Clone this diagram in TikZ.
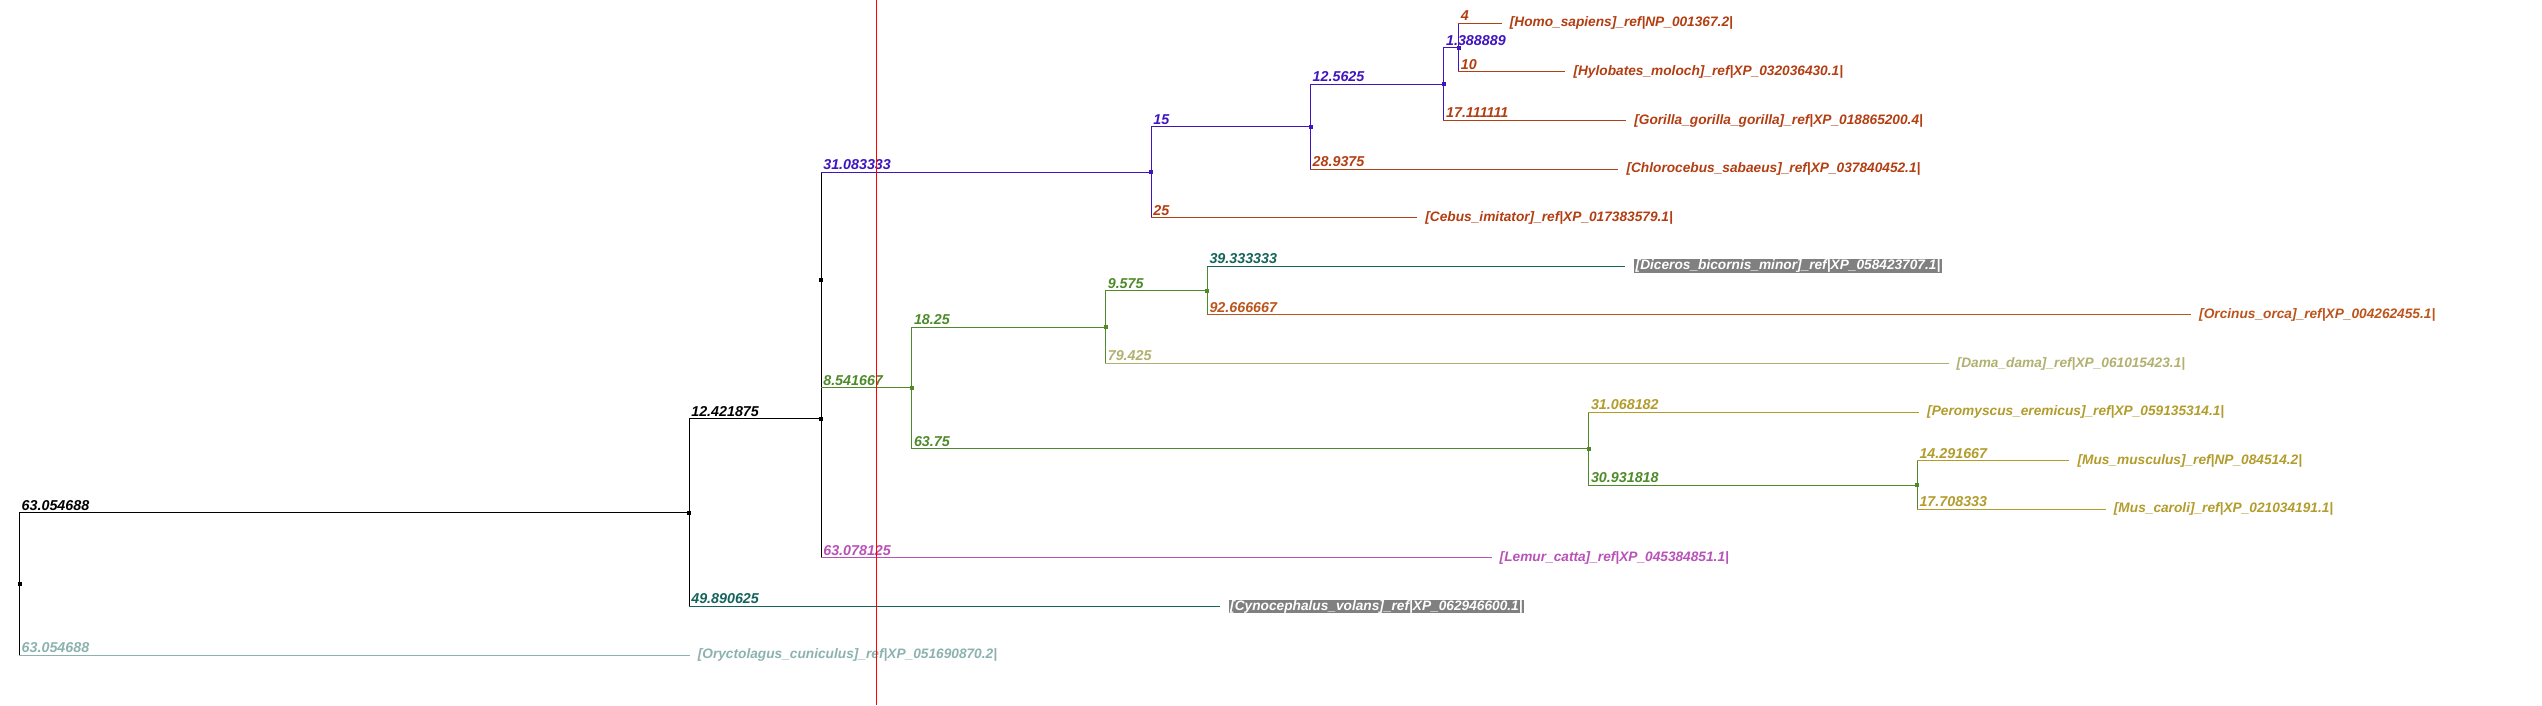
\documentclass[tikz,border=0pt]{standalone}
\usepackage{fontspec}
\setmainfont{Liberation Sans}
\usetikzlibrary{calc}
\definecolor{cblue}{RGB}{64,20,190}
\definecolor{cbrown}{RGB}{178,62,18}
\definecolor{cgreen}{RGB}{78,138,42}
\definecolor{cteal}{RGB}{20,100,92}
\definecolor{corange}{RGB}{188,84,28}
\definecolor{ckhaki}{RGB}{178,176,112}
\definecolor{cgold}{RGB}{178,156,44}
\definecolor{cmag}{RGB}{184,82,184}
\definecolor{clteal}{RGB}{140,178,176}
\definecolor{cbox}{RGB}{128,128,128}
\newcommand{\treeedge}[5]{%
  \draw[branch,#3] (#1) -- (#1 |- #2);
  \draw[branch,#4] (#1 |- #2) -- (#2);
  \node[blen,text=#4] (lab#2) at (#1 |- #2) {#5};
}
\newcommand{\nodedot}[2]{%
  \fill[#2] ($(#1)+(-2pt,-2pt)$) rectangle ++(4pt,4pt);
}
\begin{document}
\begin{tikzpicture}[x=1pt,y=-1pt,
  branch/.style={line width=1.1pt,line cap=rect},
  txt/.style={font=\fontsize{13.7}{16}\selectfont\bfseries\itshape, inner sep=0pt},
  blen/.style={txt, font=\fontsize{14.3}{16}\selectfont\bfseries\itshape, anchor=base west, xshift=2pt, yshift=2.6pt},
  leaf/.style={txt, anchor=west, xshift=8.5pt},
  boxed/.style={txt, anchor=west, xshift=9.5pt, fill=cbox, text=white, inner xsep=1.5pt, inner ysep=0.6pt}]
\useasboundingbox (0,0) rectangle (2542,705);
% internal nodes
\coordinate (R) at (19.5,583.9);
\coordinate (A) at (689.1,512.7);
\coordinate (B) at (821.1,418.9);
\coordinate (C) at (821.1,280.0);
\coordinate (D) at (1151.2,172.2);
\coordinate (E) at (1310.5,126.6);
\coordinate (F) at (1443.9,84.1);
\coordinate (G) at (1458.6,47.6);
\coordinate (H) at (911.8,387.8);
\coordinate (I) at (1105.6,327.1);
\coordinate (J) at (1588.8,448.6);
\coordinate (K) at (1207.3,290.6);
\coordinate (L) at (1917.3,485.3);
% leaf ends
\coordinate (Homo) at (1501.1,23.3);
\coordinate (Hylo) at (1564.8,71.9);
\coordinate (Gori) at (1625.6,120.5);
\coordinate (Chlo) at (1617.8,169.1);
\coordinate (Cebu) at (1416.7,217.7);
\coordinate (Dice) at (1624.5,266.3);
\coordinate (Orci) at (2190.5,314.9);
\coordinate (Dama) at (1948.0,363.5);
\coordinate (Pero) at (1918.5,412.1);
\coordinate (MusM) at (2068.8,460.7);
\coordinate (MusC) at (2105.2,509.3);
\coordinate (Lemu) at (1491.0,557.9);
\coordinate (Cyno) at (1219.0,606.5);
\coordinate (Oryc) at (689.1,655.1);
% edges
\treeedge{R}{A}{black}{black}{63.054688}
\treeedge{R}{Oryc}{black}{clteal}{63.054688}
\treeedge{A}{B}{black}{black}{12.421875}
\treeedge{A}{Cyno}{black}{cteal}{49.890625}
\draw[branch,black] (B) -- (C);
\treeedge{C}{D}{black}{cblue}{31.083333}
\treeedge{C}{H}{black}{cgreen}{8.541667}
\treeedge{B}{Lemu}{black}{cmag}{63.078125}
\treeedge{D}{E}{cblue}{cblue}{15}
\treeedge{D}{Cebu}{cblue}{cbrown}{25}
\treeedge{E}{F}{cblue}{cblue}{12.5625}
\treeedge{E}{Chlo}{cblue}{cbrown}{28.9375}
\treeedge{F}{G}{cblue}{cblue}{1.388889}
\treeedge{F}{Gori}{cblue}{cbrown}{17.111111}
\treeedge{G}{Homo}{cblue}{cbrown}{4}
\treeedge{G}{Hylo}{cblue}{cbrown}{10}
\treeedge{H}{I}{cgreen}{cgreen}{18.25}
\treeedge{H}{J}{cgreen}{cgreen}{63.75}
\treeedge{I}{K}{cgreen}{cgreen}{9.575}
\treeedge{I}{Dama}{cgreen}{ckhaki}{79.425}
\treeedge{K}{Dice}{cgreen}{cteal}{39.333333}
\treeedge{K}{Orci}{cgreen}{corange}{92.666667}
\treeedge{J}{Pero}{cgreen}{cgold}{31.068182}
\treeedge{J}{L}{cgreen}{cgreen}{30.931818}
\treeedge{L}{MusM}{cgreen}{cgold}{14.291667}
\treeedge{L}{MusC}{cgreen}{cgold}{17.708333}
% node dots
\nodedot{R}{black}\nodedot{A}{black}\nodedot{B}{black}\nodedot{C}{black}
\nodedot{D}{cblue}\nodedot{E}{cblue}\nodedot{F}{cblue}\nodedot{G}{cblue}
\nodedot{H}{cgreen}\nodedot{I}{cgreen}\nodedot{J}{cgreen}\nodedot{K}{cgreen}\nodedot{L}{cgreen}
% leaf labels
\node[leaf,text=cbrown] (tHomo) at (Homo) {[Homo\_sapiens]\_ref|NP\_001367.2|};
\node[leaf,text=cbrown] (tHylo) at (Hylo) {[Hylobates\_moloch]\_ref|XP\_032036430.1|};
\node[leaf,text=cbrown] (tGori) at (Gori) {[Gorilla\_gorilla\_gorilla]\_ref|XP\_018865200.4|};
\node[leaf,text=cbrown] (tChlo) at (Chlo) {[Chlorocebus\_sabaeus]\_ref|XP\_037840452.1|};
\node[leaf,text=cbrown] (tCebu) at (Cebu) {[Cebus\_imitator]\_ref|XP\_017383579.1|};
\node[boxed] (tDice) at (Dice) {[Diceros\_bicornis\_minor]\_ref|XP\_058423707.1|};
\node[leaf,text=corange] (tOrci) at (Orci) {[Orcinus\_orca]\_ref|XP\_004262455.1|};
\node[leaf,text=ckhaki] (tDama) at (Dama) {[Dama\_dama]\_ref|XP\_061015423.1|};
\node[leaf,text=cgold] (tPero) at (Pero) {[Peromyscus\_eremicus]\_ref|XP\_059135314.1|};
\node[leaf,text=cgold] (tMusM) at (MusM) {[Mus\_musculus]\_ref|NP\_084514.2|};
\node[leaf,text=cgold] (tMusC) at (MusC) {[Mus\_caroli]\_ref|XP\_021034191.1|};
\node[leaf,text=cmag] (tLemu) at (Lemu) {[Lemur\_catta]\_ref|XP\_045384851.1|};
\node[boxed] (tCyno) at (Cyno) {[Cynocephalus\_volans]\_ref|XP\_062946600.1|};
\node[leaf,text=clteal] (tOryc) at (Oryc) {[Oryctolagus\_cuniculus]\_ref|XP\_051690870.2|};
% red marker line
\coordinate (redtop) at (876,0);
\coordinate (redbot) at (876,705);
\draw[red,line width=1pt] (redtop) -- (redbot);
\end{tikzpicture}
\end{document}
